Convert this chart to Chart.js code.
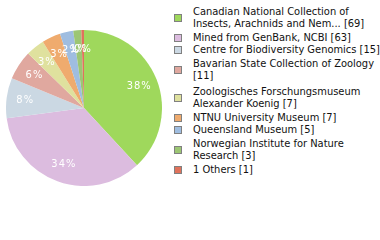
<!DOCTYPE html>
<html>
<head>
<meta charset="utf-8">
<script src="https://cdn.jsdelivr.net/npm/chart.js@4.4.0/dist/chart.umd.min.js"></script>
<style>
  body { margin: 0; background: #fff; width: 380px; height: 240px; overflow: hidden; position: relative; }
  #pieBox { position: absolute; left: 6px; top: 30px; width: 156px; height: 156px; }
  #legend { position: absolute; left: 174px; top: 4px; width: 206px; font-family: "DejaVu Sans Condensed", "DejaVu Sans", sans-serif; font-size: 11px; line-height: 12px; color: #111; }
  .item { position: relative; padding-left: 19px; }
  .item.multi { padding-top: 2px; padding-bottom: 2px; }
  .sw { position: absolute; left: 0; width: 6px; height: 6px; border: 1px solid #808080; }
</style>
</head>
<body>
<div id="pieBox"><canvas id="pie"></canvas></div>
<div id="legend"></div>
<script>
const labels = [
  "Canadian National Collection of Insects, Arachnids and Nem...",
  "Mined from GenBank, NCBI",
  "Centre for Biodiversity Genomics",
  "Bavarian State Collection of Zoology",
  "Zoologisches Forschungsmuseum Alexander Koenig",
  "NTNU University Museum",
  "Queensland Museum",
  "Norwegian Institute for Nature Research",
  "1 Others"
];
const counts = [69, 63, 15, 11, 7, 7, 5, 3, 1];
const colors = ["#9fd85c", "#dcbcdf", "#cbd8e3", "#e0a89f", "#dfe19e", "#efab6e", "#9fbde0", "#9cc673", "#e0725b"];

const total = counts.reduce((a, b) => a + b, 0);

// percent labels inside slices
const pctLabels = {
  id: "pctLabels",
  afterDatasetsDraw(chart) {
    const ctx = chart.ctx;
    const meta = chart.getDatasetMeta(0);
    ctx.save();
    ctx.fillStyle = "#fff";
    ctx.font = "11px 'DejaVu Sans Condensed', 'DejaVu Sans', sans-serif";
    ctx.letterSpacing = "1px";
    ctx.textAlign = "center";
    ctx.textBaseline = "middle";
    meta.data.forEach((arc, i) => {
      const p = arc.getProps(["x", "y", "startAngle", "endAngle", "outerRadius"]);
      const mid = (p.startAngle + p.endAngle) / 2;
      const r = p.outerRadius * 0.76;
      const txt = Math.floor(counts[i] * 100 / total) + "%";
      ctx.fillText(txt, p.x + Math.cos(mid) * r, p.y + Math.sin(mid) * r);
    });
    ctx.restore();
  }
};

new Chart(document.getElementById("pie"), {
  type: "pie",
  data: {
    labels: labels,
    datasets: [{
      data: counts,
      backgroundColor: colors,
      borderWidth: 0
    }]
  },
  options: {
    responsive: true,
    maintainAspectRatio: false,
    animation: false,
    layout: { padding: 0 },
    plugins: {
      legend: { display: false },
      tooltip: { enabled: false }
    }
  },
  plugins: [pctLabels]
});

// legend on the right
const legend = document.getElementById("legend");
labels.forEach((name, i) => {
  const item = document.createElement("div");
  item.className = "item";
  const sw = document.createElement("span");
  sw.className = "sw";
  sw.style.background = colors[i];
  item.appendChild(sw);
  item.appendChild(document.createTextNode(name + " [" + counts[i] + "]"));
  legend.appendChild(item);
  if (item.offsetHeight > 18) item.classList.add("multi");
  sw.style.top = (item.offsetHeight / 2 - 4) + "px";
});
</script>
</body>
</html>
